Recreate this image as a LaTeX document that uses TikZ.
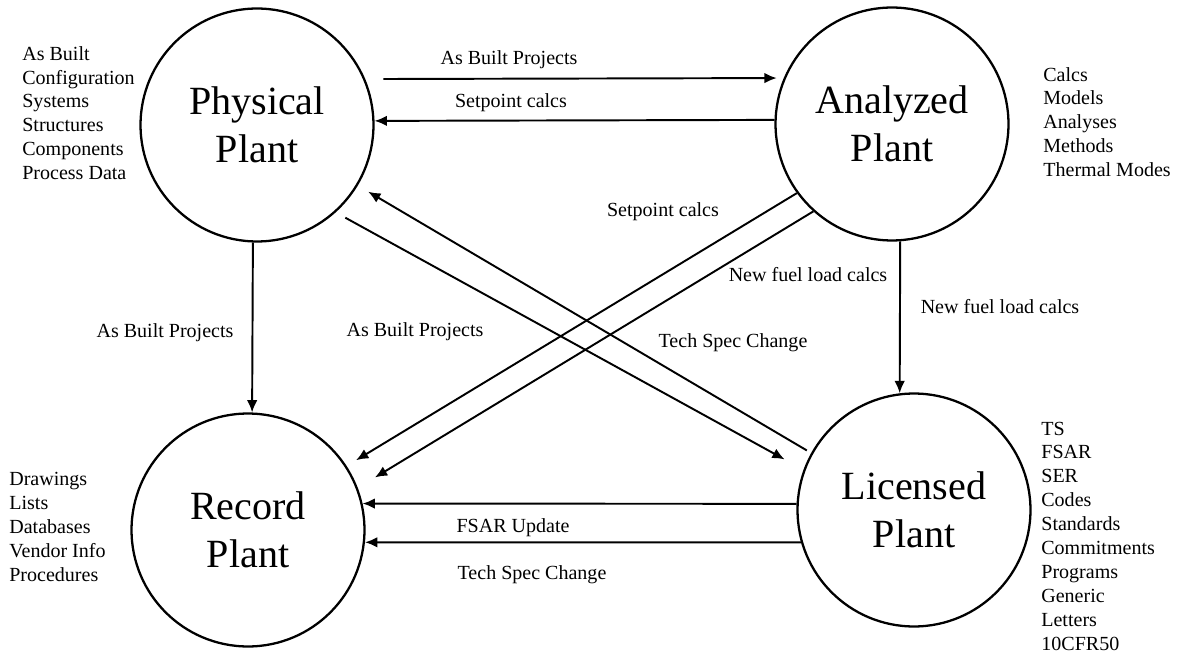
\documentclass[tikz,border=0pt]{standalone}
\usepackage{fontspec}
\setmainfont{Liberation Serif}
\usetikzlibrary{arrows.meta}
\begin{document}
\begin{tikzpicture}[x=0.02cm,y=-0.02cm]
  \tikzstyle{plant}=[circle,draw=black,line width=1.3pt,minimum size=4.66cm,inner sep=0pt,align=center,font=\fontsize{22.8}{27.3}\selectfont]
  \tikzstyle{flow}=[font=\fontsize{11.4}{13.6}\selectfont,inner sep=1pt]
  \tikzstyle{items}=[font=\fontsize{11.4}{13.6}\selectfont,align=left,anchor=west,inner sep=0pt]
  \useasboundingbox (0,0) rectangle (1179,658);
  \foreach \name/\x/\y/\txt in {phys/257/125/Physical, analyzed/892/124/Analyzed, record/248/530/Record, licensed/914/510/Licensed}
      \node[plant] (\name) at (\x,\y) {\txt\\Plant};

  \foreach \from/\a/\to/\b/\s/\e in {phys/23/analyzed/157/.36/.14, analyzed/178/phys/2/0/0, phys/-92/record/88/0/0, analyzed/-86/licensed/97/0/0, licensed/177/record/13/0/0, licensed/-164/record/-6/0/0, licensed/151.5/phys/-31/.1/.24, phys/-48/licensed/160/.22/.43, analyzed/-144/record/33/0/.22, analyzed/-132/record/21.5/0/.4}
      \draw[-{Latex[length=7pt,width=6pt]},line width=1.1pt,shorten <=\s cm,shorten >=\e cm] (\from.\a) -- (\to.\b);

  \foreach \num/\x/\y/\txt in {1/509/60/As Built Projects, 2/511/103/Setpoint calcs, 3/663/212/Setpoint calcs, 4/808/275/New fuel load calcs, 5/1000/307/New fuel load calcs, 6/165/333/As Built Projects, 7/415/332/As Built Projects, 8/733/343/Tech Spec Change, 9/513/528/FSAR Update, 10/532/575/Tech Spec Change}
      \node[flow] (L-\num) at (\x,\y) {\txt};

  % lists beside each plant
  \node[items] (phys-list) at (22,113) {As Built\\Configuration\\Systems\\Structures\\Components\\Process Data};
  \node[items] (analyzed-list) at (1043,122) {Calcs\\Models\\Analyses\\Methods\\Thermal Modes};
  \node[items] (record-list) at (9,527) {Drawings\\Lists\\Databases\\Vendor Info\\Procedures};
  \node[items] (licensed-list) at (1041,536) {TS\\FSAR\\SER\\Codes\\Standards\\Commitments\\Programs\\Generic\\Letters\\10CFR50};
\end{tikzpicture}
\end{document}
